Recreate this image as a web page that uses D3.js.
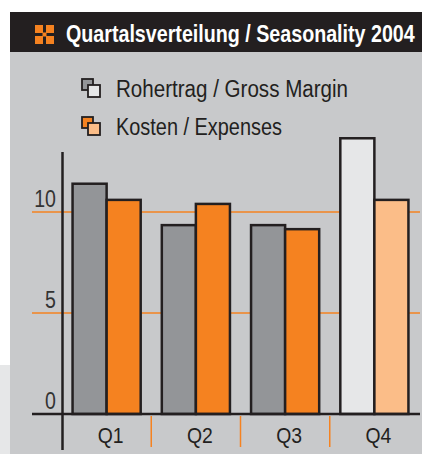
<!DOCTYPE html>
<html>
<head>
<meta charset="utf-8">
<script src="https://cdn.jsdelivr.net/npm/d3@7"></script>
<style>
  body { margin: 0; background: #fff; }
  svg { display: block; font-family: "Liberation Sans", Arial, sans-serif; }
</style>
</head>
<body>
<div class="chart"></div>
<script>
// values (approx.)
let quarters = ['Q1', 'Q2', 'Q3', 'Q4'];
let grossMargin = [11.4, 9.35, 9.35, 13.65];
let expenses = [10.6, 10.4, 9.15, 10.6];
let planned = [false, false, false, true]; // Q4 drawn in light colours
let yTicks = [0, 5, 10];
let seriesNames = ['Rohertrag / Gross Margin', 'Kosten / Expenses'];
let title = 'Quartalsverteilung / Seasonality 2004';

let W = 422, H = 454;
let dark = '#231f20';
let colors = { gm: '#939598', gmLight: '#e6e7e8', ex: '#f58220', exLight: '#fbbd88' };

// the original uses a condensed grotesque, squeeze Liberation Sans to match
function condense(sel, factor) {
	sel.each(function() {
		let len = this.getComputedTextLength();
		d3.select(this)
			.attr('textLength', len * factor)
			.attr('lengthAdjust', 'spacingAndGlyphs');
	});
}

let svg = d3.select('.chart')
	.append('svg')
	.attr('width', W)
	.attr('height', H);

// backgrounds
svg.append('rect').attr('x', 0).attr('y', 365).attr('width', 10).attr('height', H - 365).attr('fill', '#e6e7e8');
svg.append('rect').attr('x', 10).attr('y', 52).attr('width', W - 10).attr('height', H - 52).attr('fill', '#c8c9cb');
svg.append('rect').attr('x', 10).attr('y', 12).attr('width', W - 10).attr('height', 40).attr('fill', dark);

// header icon
let icon = svg.append('g').attr('transform', 'translate(35,25)').attr('fill', '#f58220');
[[0, 0], [11, 0], [0, 11], [11, 11]].forEach(p => {
	icon.append('rect').attr('x', p[0]).attr('y', p[1]).attr('width', 8).attr('height', 8);
});
icon.append('rect').attr('x', 7.5).attr('y', 7.5).attr('width', 4).attr('height', 4);

// title, squeezed with a transform so its box stays inside the page
let titleG = svg.append('g');
let titleText = titleG.append('text')
	.attr('fill', '#fff')
	.attr('font-weight', 'bold')
	.attr('font-size', 23)
	.text(title);
let tLen = titleText.node().getComputedTextLength();
titleG.attr('transform', 'translate(66,42) scale(' + (349 / tLen) + ',1)');

// legend
let legendColors = [[colors.gm, colors.gmLight], [colors.ex, colors.exLight]];
let legendWidths = [232, 166];
let legend = svg.selectAll('.legend')
	.data(seriesNames)
	.enter()
	.append('g')
	.attr('class', 'legend')
	.attr('transform', (d, i) => 'translate(82,' + (79 + i * 38) + ')');
legend.append('rect').attr('width', 11).attr('height', 11)
	.attr('fill', (d, i) => legendColors[i][0]).attr('stroke', dark).attr('stroke-width', 1.8);
legend.append('rect').attr('x', 6).attr('y', 6).attr('width', 12).attr('height', 12)
	.attr('fill', (d, i) => legendColors[i][1]).attr('stroke', dark).attr('stroke-width', 1.8);
legend.append('text')
	.attr('x', 34).attr('y', 18)
	.attr('font-size', 23)
	.attr('fill', dark)
	.attr('textLength', (d, i) => legendWidths[i])
	.attr('lengthAdjust', 'spacingAndGlyphs')
	.text(d => d);

// scales
let x0 = d3.scaleBand().domain(quarters).range([62, 419]);
let x1 = d3.scaleBand().domain(['gm', 'ex']).range([0, x0.bandwidth()]).paddingOuter(0.31);
let y = d3.scaleLinear().domain([0, 10]).range([414, 212]);

// grid lines
svg.selectAll('.grid')
	.data(yTicks.filter(d => d > 0))
	.enter()
	.append('line')
	.attr('x1', 32).attr('x2', 420)
	.attr('y1', d => y(d)).attr('y2', d => y(d))
	.attr('stroke', '#f58220').attr('stroke-width', 1.5);

svg.selectAll('.ylab')
	.data(yTicks)
	.enter()
	.append('text')
	.attr('x', 56).attr('y', d => y(d) - 5)
	.attr('text-anchor', 'end')
	.attr('font-size', 23)
	.attr('fill', '#333')
	.text(d => d)
	.call(condense, 0.85);

// bars
let rows = quarters.map((q, i) => ({ q: q, planned: planned[i], values: [
	{ key: 'gm', v: grossMargin[i] },
	{ key: 'ex', v: expenses[i] }
]}));

let groups = svg.selectAll('.quarter')
	.data(rows)
	.enter()
	.append('g')
	.attr('class', 'quarter')
	.attr('transform', d => 'translate(' + x0(d.q) + ',0)');

groups.selectAll('rect')
	.data(d => d.values.map(v => Object.assign({ planned: d.planned }, v)))
	.enter()
	.append('rect')
	.attr('x', d => x1(d.key))
	.attr('width', x1.bandwidth())
	.attr('y', d => y(d.v))
	.attr('height', d => y(0) - y(d.v))
	.attr('fill', d => colors[d.key + (d.planned ? 'Light' : '')])
	.attr('stroke', dark)
	.attr('stroke-width', 2.5);

// category separators + labels
svg.selectAll('.sep')
	.data(quarters.slice(1))
	.enter()
	.append('line')
	.attr('x1', d => x0(d)).attr('x2', d => x0(d))
	.attr('y1', 416).attr('y2', 447)
	.attr('stroke', '#f58220').attr('stroke-width', 1.5);

svg.selectAll('.xlab')
	.data(quarters)
	.enter()
	.append('text')
	.attr('x', d => x0(d) + x0.bandwidth() / 2 + 4)
	.attr('y', 443)
	.attr('text-anchor', 'middle')
	.attr('font-size', 22)
	.attr('fill', dark)
	.text(d => d)
	.call(condense, 0.88);

// axes
svg.append('line').attr('x1', 32).attr('x2', 420).attr('y1', y(0)).attr('y2', y(0))
	.attr('stroke', dark).attr('stroke-width', 2.5);
svg.append('line').attr('x1', 62.5).attr('x2', 62.5).attr('y1', 152).attr('y2', 450)
	.attr('stroke', dark).attr('stroke-width', 2.5);
</script>
</body>
</html>
